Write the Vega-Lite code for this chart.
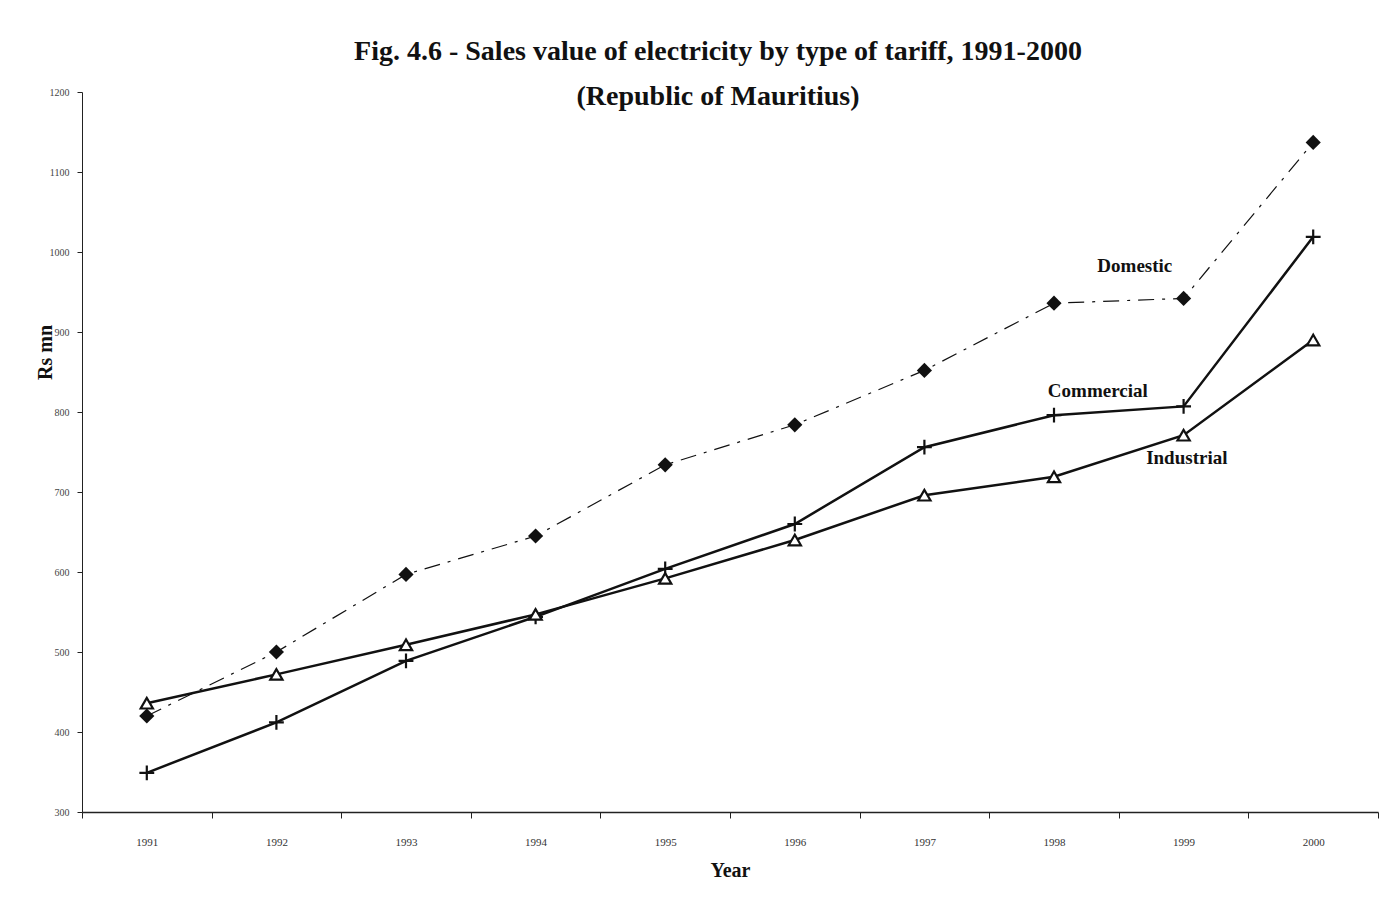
{
  "$schema": "https://vega.github.io/schema/vega-lite/v6.json",
  "autosize": {"type": "none"},
  "width": 1296,
  "height": 720,
  "padding": {"left": 82, "top": 92, "right": 18, "bottom": 91},
  "background": "white",
  "config": {"view": {"stroke": null}, "font": "Liberation Serif"},
  "title": {
    "text": ["Fig. 4.6 - Sales value of electricity by type of tariff, 1991-2000", "(Republic of Mauritius)"],
    "font": "Liberation Serif",
    "fontSize": 28,
    "fontWeight": "bold",
    "color": "#111",
    "anchor": "middle",
    "frame": "group",
    "lineHeight": 45,
    "offset": -24,
    "dx": -12
  },
  "datasets": {
    "sales": [
      {"year": "1991", "series": "Domestic", "value": 420},
      {"year": "1992", "series": "Domestic", "value": 500},
      {"year": "1993", "series": "Domestic", "value": 597},
      {"year": "1994", "series": "Domestic", "value": 645},
      {"year": "1995", "series": "Domestic", "value": 734},
      {"year": "1996", "series": "Domestic", "value": 784},
      {"year": "1997", "series": "Domestic", "value": 852},
      {"year": "1998", "series": "Domestic", "value": 936},
      {"year": "1999", "series": "Domestic", "value": 942},
      {"year": "2000", "series": "Domestic", "value": 1137},
      {"year": "1991", "series": "Commercial", "value": 349},
      {"year": "1992", "series": "Commercial", "value": 412},
      {"year": "1993", "series": "Commercial", "value": 489},
      {"year": "1994", "series": "Commercial", "value": 544},
      {"year": "1995", "series": "Commercial", "value": 604},
      {"year": "1996", "series": "Commercial", "value": 660},
      {"year": "1997", "series": "Commercial", "value": 756},
      {"year": "1998", "series": "Commercial", "value": 796},
      {"year": "1999", "series": "Commercial", "value": 807},
      {"year": "2000", "series": "Commercial", "value": 1019},
      {"year": "1991", "series": "Industrial", "value": 436},
      {"year": "1992", "series": "Industrial", "value": 472},
      {"year": "1993", "series": "Industrial", "value": 509},
      {"year": "1994", "series": "Industrial", "value": 547},
      {"year": "1995", "series": "Industrial", "value": 592},
      {"year": "1996", "series": "Industrial", "value": 640},
      {"year": "1997", "series": "Industrial", "value": 696},
      {"year": "1998", "series": "Industrial", "value": 719},
      {"year": "1999", "series": "Industrial", "value": 771},
      {"year": "2000", "series": "Industrial", "value": 890}
    ],
    "labels": [
      {"year": "1999", "series": "Domestic", "value": 982, "offset": 16},
      {"year": "1999", "series": "Commercial", "value": 826, "offset": -21},
      {"year": "1999", "series": "Industrial", "value": 742, "offset": 68}
    ]
  },
  "data": {"name": "sales"},
  "encoding": {
    "x": {
      "field": "year",
      "type": "ordinal",
      "scale": {"type": "band", "paddingInner": 0, "paddingOuter": 0},
      "axis": {
        "title": "Year",
        "titleFont": "Liberation Serif",
        "titleFontSize": 20,
        "titleFontWeight": "bold",
        "titleColor": "#111",
        "titlePadding": 13,
        "labelAngle": 0,
        "labelFont": "Liberation Serif",
        "labelFontSize": 11,
        "labelColor": "#333",
        "labelPadding": 18,
        "tickBand": "extent",
        "tickSize": 6,
        "tickColor": "#222",
        "domainColor": "#222",
        "domainWidth": 1.5,
        "grid": false
      }
    },
    "y": {
      "field": "value",
      "type": "quantitative",
      "scale": {"domain": [300, 1200], "nice": false, "zero": false},
      "axis": {
        "title": "Rs mn",
        "titleFont": "Liberation Serif",
        "titleFontSize": 20,
        "titleFontWeight": "bold",
        "titleColor": "#111",
        "titleX": -27,
        "titleY": 260,
        "values": [300, 400, 500, 600, 700, 800, 900, 1000, 1100, 1200],
        "format": "d",
        "labelFont": "Liberation Serif",
        "labelFontSize": 10,
        "labelColor": "#444",
        "labelPadding": 8,
        "tickSize": 5,
        "tickColor": "#222",
        "domainColor": "#222",
        "grid": false
      }
    }
  },
  "layer": [
    {
      "transform": [{"filter": "datum.series === 'Domestic'"}],
      "mark": {"type": "line", "color": "#111", "strokeWidth": 1.2, "strokeDash": [16, 8, 3, 8]}
    },
    {
      "transform": [{"filter": "datum.series !== 'Domestic'"}],
      "mark": {"type": "line", "color": "#111", "strokeWidth": 2.5},
      "encoding": {"detail": {"field": "series"}}
    },
    {
      "transform": [{"filter": "datum.series === 'Domestic'"}],
      "mark": {"type": "point", "shape": "diamond", "filled": true, "color": "#111", "size": 230, "opacity": 1}
    },
    {
      "transform": [{"filter": "datum.series === 'Commercial'"}],
      "mark": {"type": "point", "shape": "M-1,0L1,0M0,-1L0,1", "filled": false, "color": "#111", "strokeWidth": 2.2, "size": 220, "opacity": 1}
    },
    {
      "transform": [{"filter": "datum.series === 'Industrial'"}],
      "mark": {"type": "point", "shape": "triangle-up", "filled": false, "fill": "white", "fillOpacity": 1, "stroke": "#111", "strokeWidth": 2.2, "size": 150, "opacity": 1}
    },
    {
      "data": {"name": "labels"},
      "mark": {"type": "text", "font": "Liberation Serif", "fontSize": 19, "fontWeight": "bold", "color": "#111", "align": "center", "baseline": "middle"},
      "encoding": {
        "text": {"field": "series"},
        "xOffset": {"field": "offset", "type": "quantitative", "scale": null}
      }
    }
  ]
}
